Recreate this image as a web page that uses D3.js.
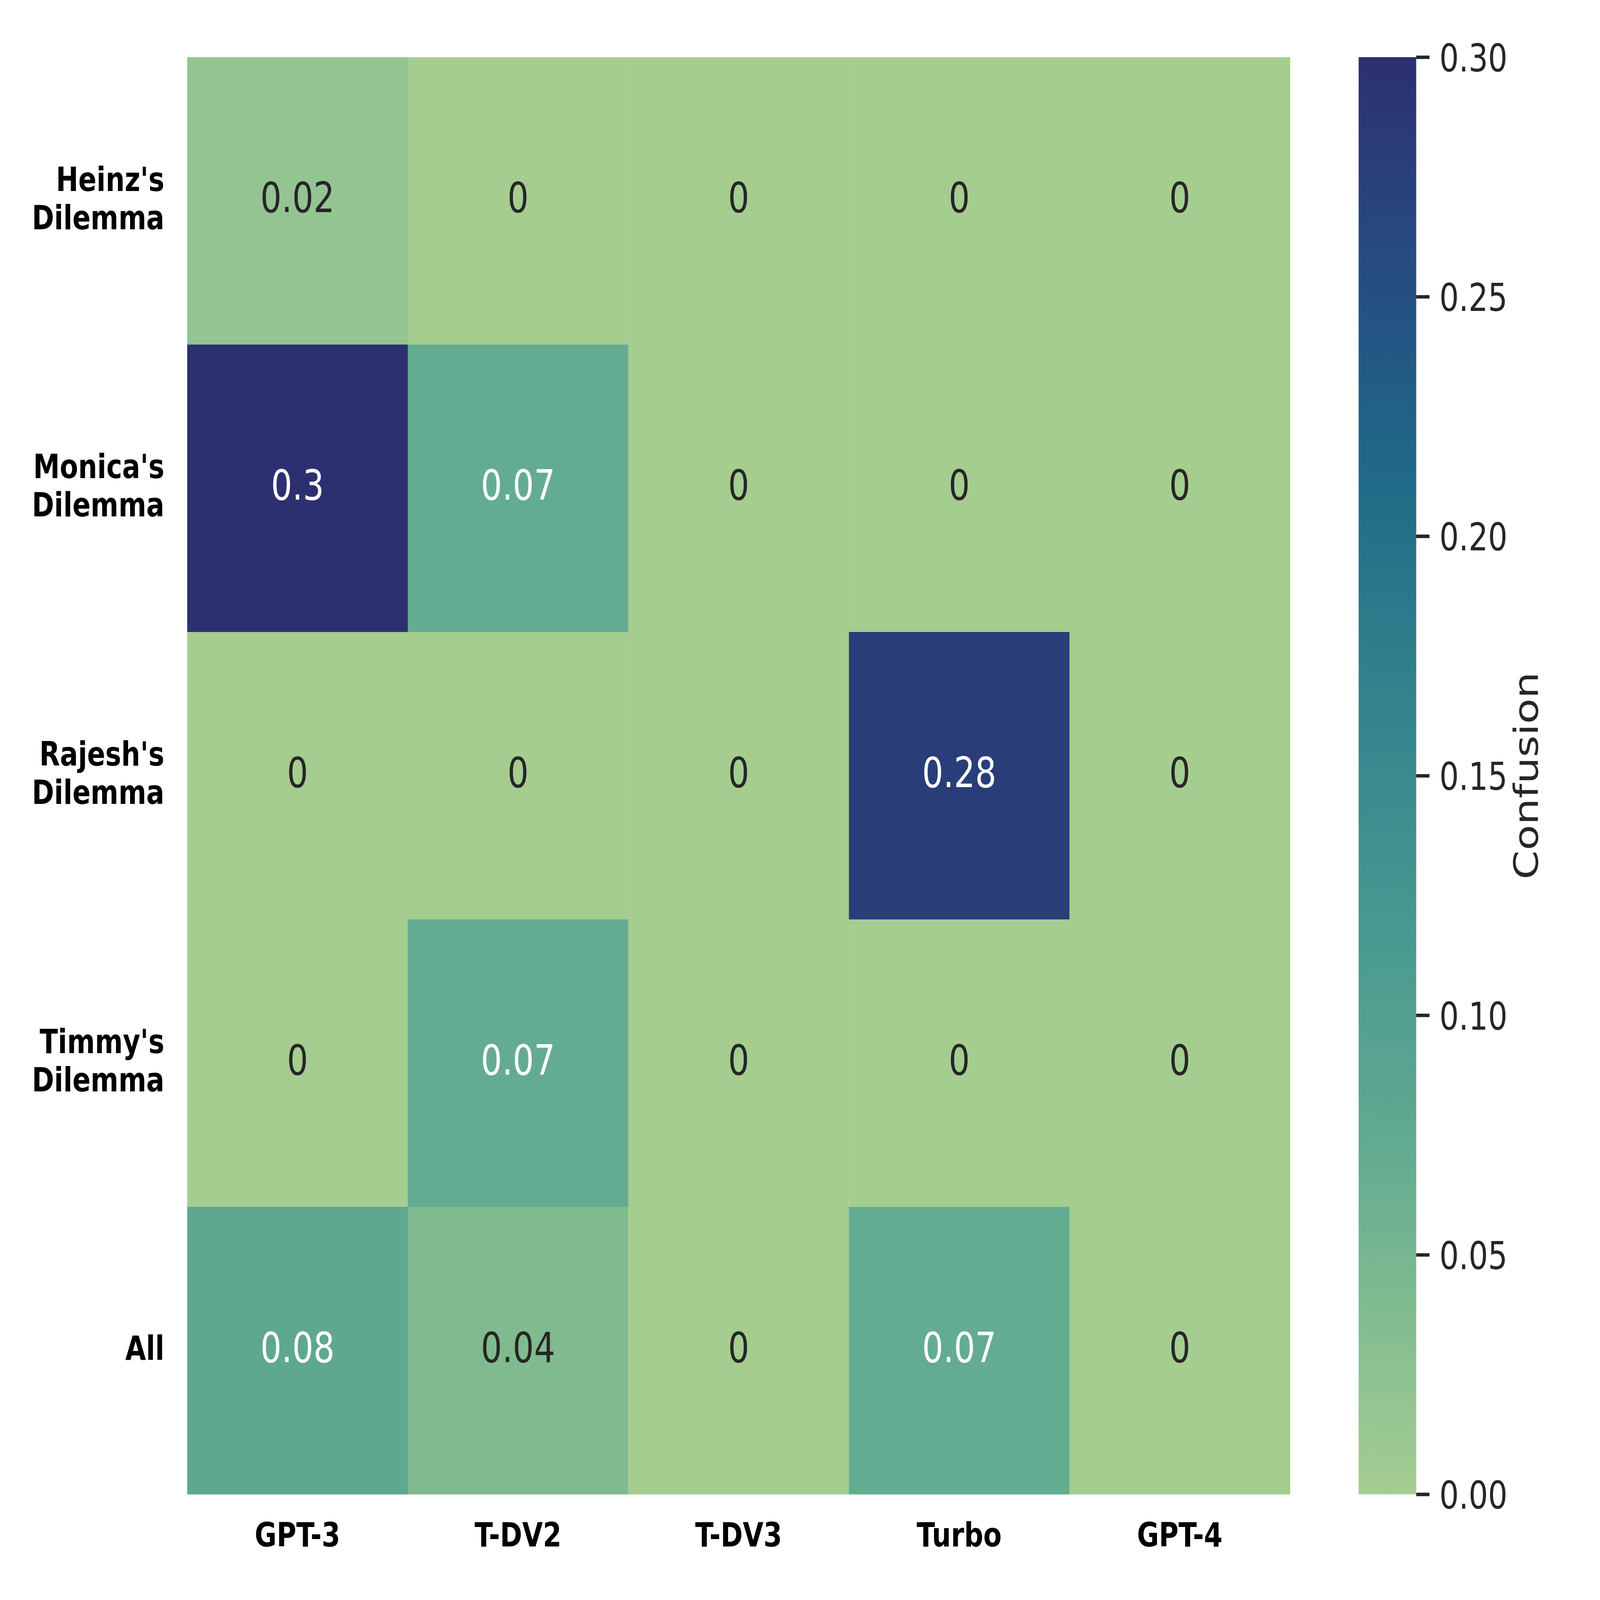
<!DOCTYPE html>
<html>
<head>
<meta charset="utf-8">
<script src="https://cdn.jsdelivr.net/npm/d3@7"></script>
<style>
  html, body { margin: 0; padding: 0; background: #ffffff; overflow: hidden; }
  svg { display: block; }
  text { font-family: "DejaVu Sans", sans-serif; }
</style>
</head>
<body>
<svg id="chart" viewBox="0 0 7000 5600" preserveAspectRatio="none" style="width:100vw;height:100vh;"></svg>
<script>
// ---- data ----
const models = ["GPT-3", "T-DV2", "T-DV3", "Turbo", "GPT-4"];
const dilemmas = ["Heinz's\nDilemma", "Monica's\nDilemma", "Rajesh's\nDilemma", "Timmy's\nDilemma", "All"];
const heinzValues  = [0.02, 0,    0, 0,    0];
const monicaValues = [0.30, 0.07, 0, 0,    0];
const rajeshValues = [0,    0,    0, 0.28, 0];
const timmyValues  = [0,    0.07, 0, 0,    0];
const allValues    = [0.08, 0.04, 0, 0.07, 0];
const colorbarTicks = [0, 0.05, 0.10, 0.15, 0.20, 0.25, 0.30];
const colorbarLabel = "Confusion";
const vmin = 0, vmax = 0.3;
// seaborn "crest" colormap anchors (fraction of range -> colour)
const crestStops = [0, 0.067, 0.133, 0.233, 0.267, 0.4, 0.5, 0.6, 0.7, 0.8, 0.9, 1.0];
const crestColors = ["#a5cd90", "#93c492", "#7fbb8f", "#64ac91", "#5ea791", "#479890",
                     "#3a8a8f", "#2e7c8b", "#216b88", "#225785", "#28447c", "#2c3070"];

const rows = [heinzValues, monicaValues, rajeshValues, timmyValues, allValues];
const cells = [];
rows.forEach((vals, i) => vals.forEach((v, j) => cells.push({ row: dilemmas[i], col: models[j], value: v })));

// ---- layout ----
const svg = d3.select("#chart");
svg.append("rect").attr("width", 7000).attr("height", 5600).attr("fill", "#ffffff");

const x = d3.scaleBand().domain(models).range([819, 5644]).padding(0);
const y = d3.scaleBand().domain(dilemmas).range([200, 5230]).padding(0);
const color = d3.scaleLinear()
  .domain(crestStops.map(t => vmin + t * (vmax - vmin)))
  .range(crestColors)
  .interpolate(d3.interpolateRgb)
  .clamp(true);

function relLum(c) {
  const rgb = d3.rgb(c);
  const f = v => { v /= 255; return v <= 0.03928 ? v / 12.92 : Math.pow((v + 0.055) / 1.055, 2.4); };
  return 0.2126 * f(rgb.r) + 0.7152 * f(rgb.g) + 0.0722 * f(rgb.b);
}

// cells
svg.append("g").selectAll("rect").data(cells).join("rect")
  .attr("x", d => x(d.col))
  .attr("y", d => y(d.row))
  .attr("width", x.bandwidth() + 0.5)
  .attr("height", y.bandwidth() + 0.5)
  .attr("fill", d => color(d.value));

// annotations
svg.append("g").selectAll("text").data(cells).join("text")
  .attr("x", d => x(d.col) + x.bandwidth() / 2)
  .attr("y", d => y(d.row) + y.bandwidth() / 2 + 40)
  .attr("text-anchor", "middle")
  .attr("font-size", 146)
  .attr("fill", d => relLum(color(d.value)) > 0.408 ? "#262626" : "#ffffff")
  .text(d => String(+d.value.toPrecision(2)));

// y tick labels (bold, multi-line)
const yl = svg.append("g").selectAll("text").data(dilemmas).join("text")
  .attr("text-anchor", "end")
  .attr("font-size", 117)
  .attr("font-weight", "bold")
  .attr("fill", "#000000");
yl.each(function(d) {
  const lines = d.split("\n");
  const c = y(d) + y.bandwidth() / 2;
  const lineH = 134;
  const first = c + 32 - (lines.length - 1) * lineH / 2;
  const t = d3.select(this);
  lines.forEach((ln, k) => {
    t.append("tspan").attr("x", 719).attr("y", first + k * lineH).text(ln);
  });
});

// x tick labels
svg.append("g").selectAll("text").data(models).join("text")
  .attr("x", d => x(d) + x.bandwidth() / 2)
  .attr("y", 5413)
  .attr("text-anchor", "middle")
  .attr("font-size", 117)
  .attr("font-weight", "bold")
  .attr("fill", "#000000")
  .text(d => d);

// colorbar
const cbX0 = 5944, cbX1 = 6196;
const cbScale = d3.scaleLinear().domain([vmin, vmax]).range([5230, 200]);
const defs = svg.append("defs");
const grad = defs.append("linearGradient").attr("id", "cbgrad")
  .attr("x1", 0).attr("y1", 1).attr("x2", 0).attr("y2", 0);
d3.range(0, 1.0001, 0.01).forEach(t => {
  grad.append("stop").attr("offset", t).attr("stop-color", color(vmin + t * (vmax - vmin)));
});
svg.append("rect")
  .attr("x", cbX0).attr("y", cbScale(vmax))
  .attr("width", cbX1 - cbX0).attr("height", cbScale(vmin) - cbScale(vmax))
  .attr("fill", "url(#cbgrad)");

const cbAxis = d3.axisRight(cbScale)
  .tickValues(colorbarTicks)
  .tickSize(58)
  .tickPadding(43)
  .tickFormat(d3.format(".2f"));
const cbG = svg.append("g").attr("transform", `translate(${cbX1},0)`).call(cbAxis);
cbG.select(".domain").remove();
cbG.selectAll(".tick line").attr("stroke", "#262626").attr("stroke-width", 12);
cbG.selectAll(".tick text")
  .attr("fill", "#262626")
  .attr("font-size", 134)
  .attr("font-family", "DejaVu Sans, sans-serif")
  .attr("dy", "0.37em");

svg.append("text")
  .attr("transform", `translate(6728, ${(cbScale(vmin) + cbScale(vmax)) / 2}) rotate(-90)`)
  .attr("text-anchor", "middle")
  .attr("font-size", 146)
  .attr("fill", "#262626")
  .text(colorbarLabel);
</script>
</body>
</html>
